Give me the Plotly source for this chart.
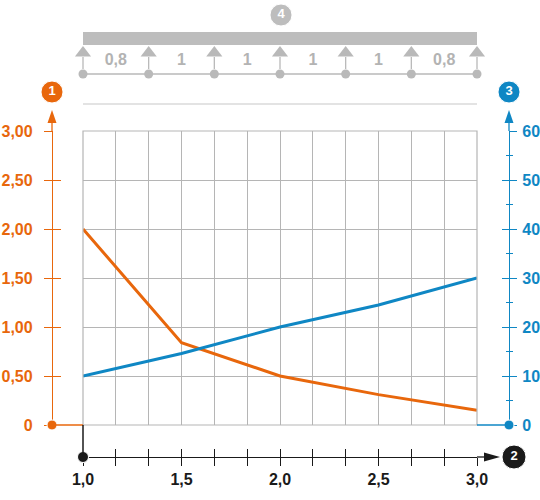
import plotly.graph_objects as go

# span in m (x axis) and the two curves
span = [1.0, 1.5, 2.0, 2.5, 3.0]
load = [2.00, 0.84, 0.50, 0.31, 0.15]        # left axis (orange)
deflection = [10, 14.6, 20, 24.5, 30]        # right axis (blue)

# tick values / labels
x_ticks = [1 + i / 6 for i in range(13)]
x_labels = ["1,0", "", "", "1,5", "", "", "2,0", "", "", "2,5", "", "", "3,0"]
left_ticks = [0, 0.5, 1.0, 1.5, 2.0, 2.5, 3.0]
left_labels = ["0", "0,50", "1,00", "1,50", "2,00", "2,50", "3,00"]
right_dtick = 10
right_minor = 5

# beam sketch on top: supports and span lengths
support_x = [1, 4 / 3, 5 / 3, 2, 7 / 3, 8 / 3, 3]
span_labels = ["0,8", "1", "1", "1", "1", "0,8"]

# colours
ORANGE = "#e8670c"
BLUE = "#0f87c4"
BLACK = "#1a1a1a"
GRID = "#b5b5b5"
GREY = "#b9b9b9"

W, H = 540, 500
PL, PR, PT, PB = 83, 477, 131, 425   # plot area in pixels
AXL, AXR, AXB = 52, 509, 457         # free axis lines


def fx(px):
    return px / W


def fy(py):
    return 1 - py / H


def xpix(v):
    # data x -> pixel x (used for the sketch on the canvas axes)
    return PL + (v - 1) / 2 * (PR - PL)


FONT = dict(family="Liberation Sans, Arial, sans-serif", size=16, weight="bold")

fig = go.Figure()

# data curves
fig.add_trace(go.Scatter(x=span, y=load, mode="lines", xaxis="x", yaxis="y",
                         line=dict(color=ORANGE, width=3)))
fig.add_trace(go.Scatter(x=span, y=deflection, mode="lines", xaxis="x", yaxis="y3",
                         line=dict(color=BLUE, width=3)))

# empty traces so the overlay tick axes are drawn
for xa, ya in [("x2", "y"), ("x", "y2"), ("x", "y4")]:
    fig.add_trace(go.Scatter(x=[None], y=[None], xaxis=xa, yaxis=ya))

# ---- beam sketch + badges on a full-canvas pixel axis (x5/y5)
sx = [xpix(v) for v in support_x]
mid = [(sx[i] + sx[i + 1]) / 2 for i in range(len(sx) - 1)]

stem_x, stem_y = [], []
for v in sx:
    stem_x += [v, v, None]
    stem_y += [57, 69, None]
fig.add_trace(go.Scatter(x=stem_x, y=stem_y, mode="lines", xaxis="x5", yaxis="y5",
                         line=dict(color=GREY, width=1.3)))
fig.add_trace(go.Scatter(x=[PL, PR], y=[74, 74], mode="lines", xaxis="x5", yaxis="y5",
                         line=dict(color=GREY, width=1.5)))
fig.add_trace(go.Scatter(x=[PL, PR], y=[104, 104], mode="lines", xaxis="x5", yaxis="y5",
                         line=dict(color="#c8c8c8", width=1.2)))
fig.add_trace(go.Scatter(x=sx, y=[53] * len(sx), mode="markers", xaxis="x5", yaxis="y5",
                         marker=dict(symbol="triangle-up", size=14, color=GREY, opacity=1)))
fig.add_trace(go.Scatter(x=sx, y=[74] * len(sx), mode="markers", xaxis="x5", yaxis="y5",
                         marker=dict(symbol="circle", size=9, color=GREY, opacity=1)))
fig.add_trace(go.Scatter(x=mid, y=[61] * len(mid), mode="text", text=span_labels,
                         xaxis="x5", yaxis="y5",
                         textfont=dict(FONT, color="#b3b3b3")))

# end dots of the axes
fig.add_trace(go.Scatter(x=[AXL, AXR, PL], y=[PB, PB, AXB], mode="markers",
                         xaxis="x5", yaxis="y5",
                         marker=dict(size=[10, 10, 11], color=[ORANGE, BLUE, BLACK],
                                     opacity=1)))

# numbered badges
fig.add_trace(go.Scatter(x=[AXL, 281, AXR, 514], y=[92, 15, 92, 457],
                         mode="markers+text", text=["1", "4", "3", "2"],
                         textposition="middle center", xaxis="x5", yaxis="y5",
                         marker=dict(size=[22, 22, 22, 24], opacity=1,
                                     color=[ORANGE, "#bdbdbd", BLUE, BLACK]),
                         textfont=dict(family=FONT["family"], size=13, weight="bold",
                                       color="white")))

shapes = [
    # plot frame
    dict(type="rect", x0=PL, x1=PR, y0=PT, y1=PB, line=dict(color=GRID, width=1.2),
         layer="below"),
    # beam
    dict(type="rect", x0=PL, x1=PR, y0=32, y1=45, fillcolor="#bdbdbd", line_width=0),
    # connectors at y=0
    dict(type="line", x0=AXL, x1=PL, y0=PB, y1=PB, line=dict(color=ORANGE, width=1.5)),
    dict(type="line", x0=PR, x1=AXR, y0=PB, y1=PB, line=dict(color=BLUE, width=1.5)),
    dict(type="line", x0=PL, x1=PL, y0=PB, y1=AXB, line=dict(color=BLACK, width=1.5)),
    # axis extensions
    dict(type="line", x0=AXL, x1=AXL, y0=PT, y1=120, line=dict(color=ORANGE, width=1.3)),
    dict(type="line", x0=AXR, x1=AXR, y0=PT, y1=120, line=dict(color=BLUE, width=1.3)),
    dict(type="line", x0=PR, x1=488, y0=AXB, y1=AXB, line=dict(color=BLACK, width=1.3)),
    # arrow heads
    dict(type="path", path=f"M{AXL-4.5},123 L{AXL},110 L{AXL+4.5},123 Z",
         fillcolor=ORANGE, line_width=0),
    dict(type="path", path=f"M{AXR-4.5},123 L{AXR},110 L{AXR+4.5},123 Z",
         fillcolor=BLUE, line_width=0),
    dict(type="path", path=f"M484,{AXB-4.5} L500,{AXB} L484,{AXB+4.5} Z",
         fillcolor=BLACK, line_width=0),
]
for s in shapes:
    s.update(xref="x5", yref="y5")
    s.setdefault("layer", "above")

xdom = [fx(PL), fx(PR)]
ydom = [fy(PB), fy(PT)]

fig.update_layout(
    width=W, height=H,
    margin=dict(l=0, r=0, t=0, b=0, autoexpand=False),
    paper_bgcolor="white", plot_bgcolor="rgba(0,0,0,0)",
    showlegend=False, hovermode=False,
    font=FONT,
    shapes=shapes,
    xaxis=dict(domain=xdom, range=[1, 3], anchor="free", position=fy(AXB),
               tickmode="array", tickvals=x_ticks, ticktext=x_labels,
               ticks="outside", ticklen=8, tickwidth=1.3, tickcolor=BLACK,
               showline=True, linecolor=BLACK, linewidth=1.3,
               showgrid=True, gridcolor=GRID, gridwidth=1.2, zeroline=False,
               tickfont=dict(FONT, color=BLACK), fixedrange=True, automargin=False),
    xaxis2=dict(domain=xdom, range=[1, 3], overlaying="x", anchor="free",
                position=fy(AXB), tickmode="array", tickvals=x_ticks,
                ticks="inside", ticklen=8, tickwidth=1.3, tickcolor=BLACK,
                showticklabels=False, showgrid=False, showline=False, zeroline=False,
                automargin=False),
    yaxis=dict(domain=ydom, range=[0, 3], anchor="free", position=fx(AXL), side="left",
               tickmode="array", tickvals=left_ticks, ticktext=left_labels,
               ticks="outside", ticklen=8, tickwidth=1.3, tickcolor=ORANGE,
               showline=True, linecolor=ORANGE, linewidth=1.3,
               showgrid=True, gridcolor=GRID, gridwidth=1.2, zeroline=False,
               tickfont=dict(FONT, color=ORANGE), ticklabelstandoff=8,
               fixedrange=True, automargin=False),
    yaxis2=dict(domain=ydom, range=[0, 3], overlaying="y", anchor="free",
                position=fx(AXL), side="left", tickmode="array", tickvals=left_ticks,
                ticks="inside", ticklen=8, tickwidth=1.3, tickcolor=ORANGE,
                showticklabels=False, showgrid=False, showline=False, zeroline=False,
                automargin=False),
    yaxis3=dict(domain=ydom, range=[0, 60], overlaying="y", anchor="free",
                position=fx(AXR), side="right", tickmode="linear", tick0=0,
                dtick=right_dtick,
                ticks="outside", ticklen=7, tickwidth=1.3, tickcolor=BLUE,
                minor=dict(dtick=right_minor, tick0=0, ticks="outside", ticklen=3,
                           tickcolor=BLUE, tickwidth=1.3, showgrid=False),
                showline=True, linecolor=BLUE, linewidth=1.3,
                showgrid=False, zeroline=False,
                tickfont=dict(FONT, color=BLUE), ticklabelstandoff=2,
                automargin=False),
    yaxis4=dict(domain=ydom, range=[0, 60], overlaying="y", anchor="free",
                position=fx(AXR), side="right", tickmode="linear", tick0=0,
                dtick=right_dtick,
                ticks="inside", ticklen=7, tickwidth=1.3, tickcolor=BLUE,
                minor=dict(dtick=right_minor, tick0=0, ticks="inside", ticklen=3,
                           tickcolor=BLUE, tickwidth=1.3, showgrid=False),
                showticklabels=False, showgrid=False, showline=False, zeroline=False,
                automargin=False),
    xaxis5=dict(domain=[0, 1], range=[0, W], anchor="y5", visible=False, fixedrange=True),
    yaxis5=dict(domain=[0, 1], range=[H, 0], anchor="x5", visible=False, fixedrange=True),
)

# drop the default 8px page margin so the figure sits at the window's corner
fig.write_html("out.html", config={"displayModeBar": False},
               post_script="document.body.style.margin = '0';")
